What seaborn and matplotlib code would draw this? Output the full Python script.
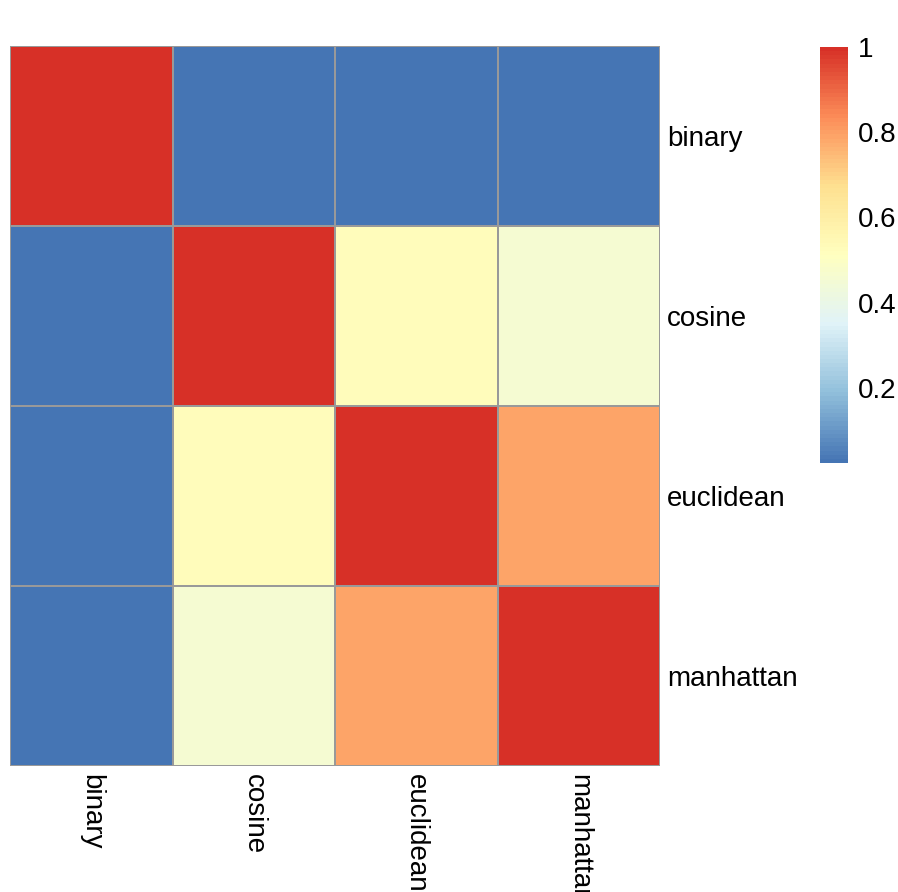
import numpy as np
import pandas as pd
import matplotlib
matplotlib.use("Agg")
import matplotlib.pyplot as plt
from matplotlib.colors import LinearSegmentedColormap
import seaborn as sns

# similarity between distance measures
measures = ["binary", "cosine", "euclidean", "manhattan"]
binary_row = [1.0, 0.024, 0.024, 0.024]
cosine_row = [0.024, 1.0, 0.53, 0.46]
euclidean_row = [0.024, 0.53, 1.0, 0.79]
manhattan_row = [0.024, 0.46, 0.79, 1.0]
cbar_ticks = [0.2, 0.4, 0.6, 0.8, 1.0]
cbar_ticklabels = ["0.2", "0.4", "0.6", "0.8", "1"]

# pheatmap default palette: rev(brewer.pal(7, "RdYlBu")) stretched to 100 colours
rdylbu7 = ["#4575B4", "#91BFDB", "#E0F3F8", "#FFFFBF", "#FEE090", "#FC8D59", "#D73027"]
cmap = LinearSegmentedColormap.from_list("pheat", rdylbu7, N=100)

df = pd.DataFrame([binary_row, cosine_row, euclidean_row, manhattan_row],
                  index=measures, columns=measures)

plt.rcParams["font.family"] = ["Liberation Sans", "DejaVu Sans"]

fig = plt.figure(figsize=(8.98, 8.92), dpi=100)
ax = fig.add_axes([10 / 898, 1 - 766 / 892, 650 / 898, 720 / 892])
cax = fig.add_axes([820 / 898, 1 - 463 / 892, 28 / 898, 416 / 892])

sns.heatmap(df, cmap=cmap, vmin=df.values.min(), vmax=df.values.max(),
            linewidths=1.3, linecolor="#999999", ax=ax, cbar_ax=cax,
            cbar_kws={"ticks": cbar_ticks})

ax.yaxis.tick_right()
ax.set_yticklabels(measures, rotation=0, fontsize=20, va="center_baseline")
ax.set_xticklabels(measures, rotation=-90, fontsize=20, ha="center", va="top")
ax.tick_params(axis="y", length=0, pad=5)
ax.tick_params(axis="x", length=0, pad=6)
ax.set_xlabel("")
ax.set_ylabel("")

cb = ax.collections[0].colorbar
cb.outline.set_visible(False)
cb.set_ticklabels(cbar_ticklabels)
cax.tick_params(length=0, labelsize=20, pad=7)

fig.savefig("out.png", dpi=100, facecolor="white")
